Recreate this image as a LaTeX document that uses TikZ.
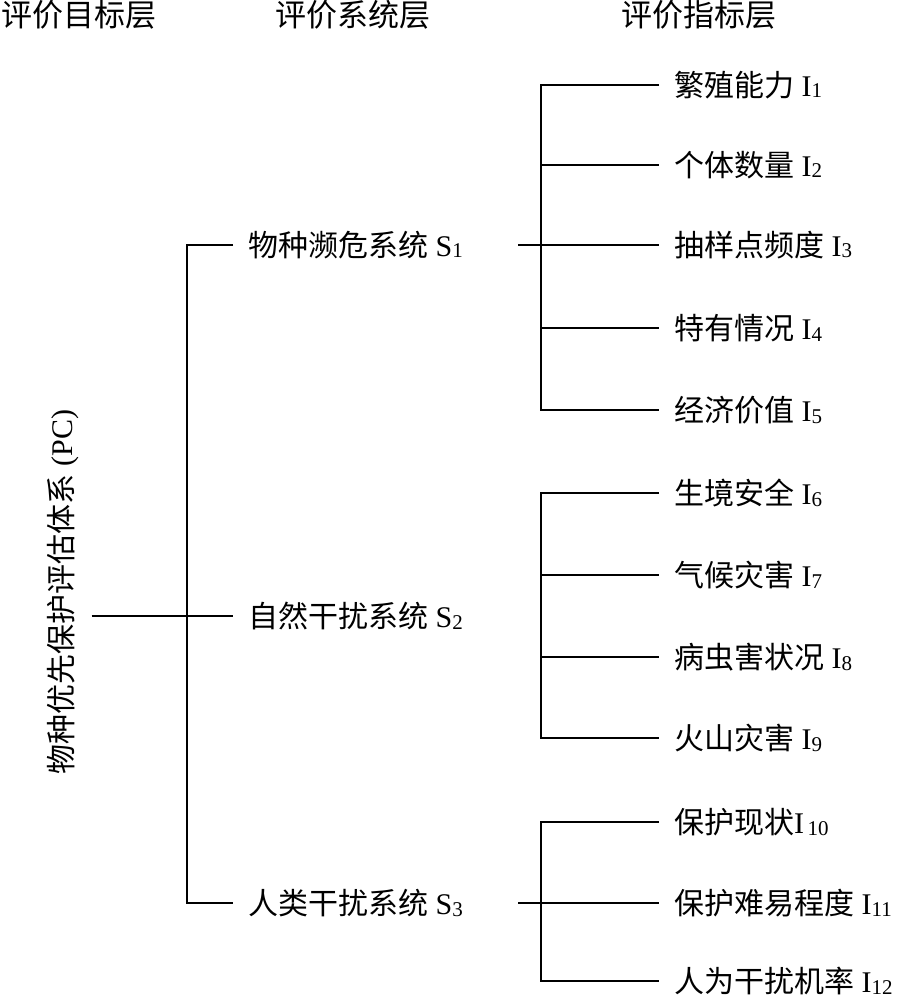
\documentclass[tikz,border=0pt]{standalone}
\usepackage{fontspec}
\setmainfont{Liberation Serif}
\newfontfamily\cjk{Noto Sans CJK SC}
\newcommand{\zh}[1]{{\cjk #1}}
\newcommand{\sub}[1]{\raisebox{-1.5pt}{\fontsize{21}{21}\selectfont #1}}
\tikzset{
	lbl/.style={anchor=west,inner sep=0pt,font=\fontsize{30}{36}\selectfont,text height=26pt,text depth=3pt},
	hdr/.style={inner sep=0pt,font=\fontsize{31}{37}\selectfont,text height=27pt,text depth=3pt},
	tree/.style={line width=1.5pt}
}
\begin{document}
\begin{tikzpicture}[x=1pt,y=-1pt]
	\useasboundingbox (0,0) rectangle (902,1000);
	% headers
	\node (H1) [hdr] at (79,15) {\zh{评价目标层}};
	\node (H2) [hdr] at (353,15) {\zh{评价系统层}};
	\node (H3) [hdr] at (699,15) {\zh{评价指标层}};
	% target layer
	\node (PC) [lbl,anchor=center,rotate=90] at (61,592) {\zh{物种优先保护评估体系} (PC)};
	% system layer
	\node (S1) [lbl] at (248,245) {\zh{物种濒危系统} S\sub{1}};
	\node (S2) [lbl] at (248,616) {\zh{自然干扰系统} S\sub{2}};
	\node (S3) [lbl] at (248,903) {\zh{人类干扰系统} S\sub{3}};
	% index layer
	\node (I1) [lbl] at (674,85) {\zh{繁殖能力} I\sub{1}};
	\node (I2) [lbl] at (674,165) {\zh{个体数量} I\sub{2}};
	\node (I3) [lbl] at (674,245) {\zh{抽样点频度} I\sub{3}};
	\node (I4) [lbl] at (674,328) {\zh{特有情况} I\sub{4}};
	\node (I5) [lbl] at (674,410) {\zh{经济价值} I\sub{5}};
	\node (I6) [lbl] at (674,493) {\zh{生境安全} I\sub{6}};
	\node (I7) [lbl] at (674,575) {\zh{气候灾害} I\sub{7}};
	\node (I8) [lbl] at (674,657) {\zh{病虫害状况} I\sub{8}};
	\node (I9) [lbl] at (674,738) {\zh{火山灾害} I\sub{9}};
	\node (I10) [lbl] at (674,822) {\zh{保护现状}I\sub{\,10}};
	\node (I11) [lbl] at (674,903) {\zh{保护难易程度} I\sub{11}};
	\node (I12) [lbl] at (674,981) {\zh{人为干扰机率} I\sub{12}};
	% bus lines
	\coordinate (L) at (187,0);
	\coordinate (M) at (518,0);
	\coordinate (R) at (541,0);
	\draw [tree] ([xshift=16pt]PC.south |- S2.west) -- ([xshift=-15pt]S2.west);
	\draw [tree] ([xshift=-15pt]S1.west) -- (L |- S1.west) -- (L |- S3.west) -- ([xshift=-15pt]S3.west);
	\draw [tree] ([xshift=-15pt]I1.west) -- (R |- I1.west) -- (R |- I5.west) -- ([xshift=-15pt]I5.west);
	\draw [tree] (R |- I2.west) -- ([xshift=-15pt]I2.west);
	\draw [tree] (M |- S1.east) -- ([xshift=-15pt]I3.west);
	\draw [tree] (R |- I4.west) -- ([xshift=-15pt]I4.west);
	\draw [tree] ([xshift=-15pt]I6.west) -- (R |- I6.west) -- (R |- I9.west) -- ([xshift=-15pt]I9.west);
	\draw [tree] (R |- I7.west) -- ([xshift=-15pt]I7.west);
	\draw [tree] (R |- I8.west) -- ([xshift=-15pt]I8.west);
	\draw [tree] ([xshift=-15pt]I10.west) -- (R |- I10.west) -- (R |- I12.west) -- ([xshift=-15pt]I12.west);
	\draw [tree] (M |- S3.east) -- ([xshift=-15pt]I11.west);
\end{tikzpicture}
\end{document}
